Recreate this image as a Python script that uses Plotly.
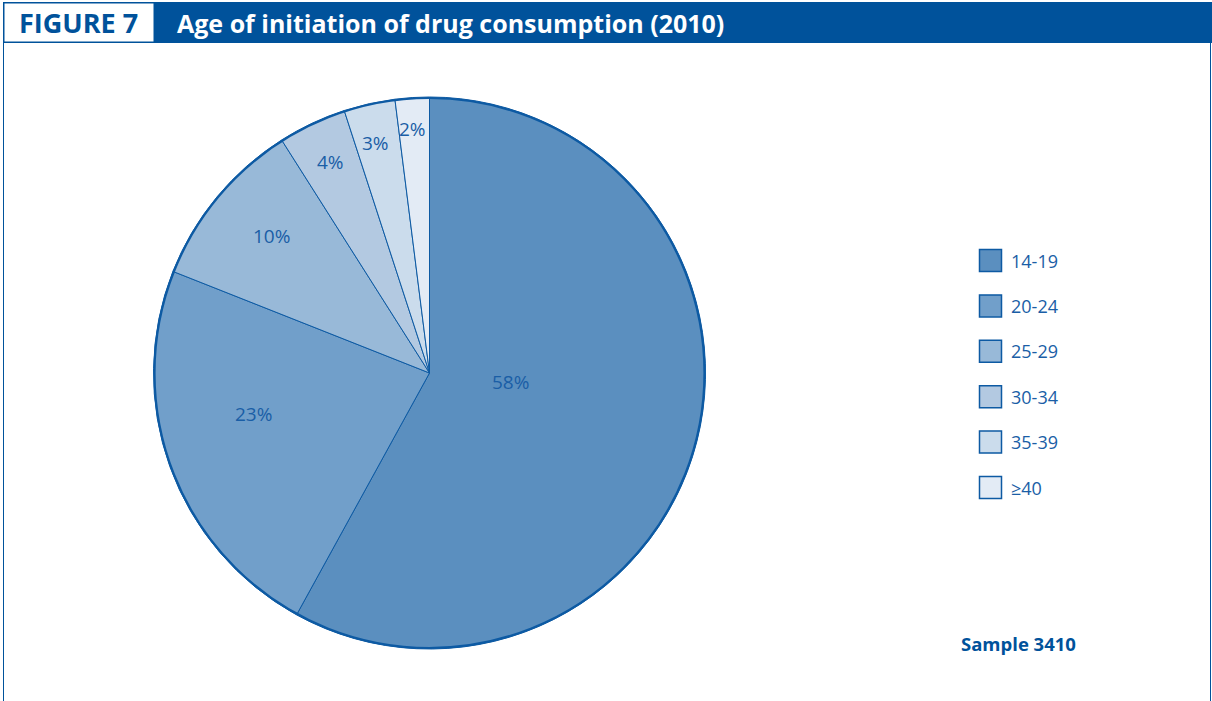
import math
import plotly.graph_objects as go

# Age-of-initiation shares (percent of respondents)
age_groups = ["14-19", "20-24", "25-29", "30-34", "35-39", "≥40"]
shares = [58, 23, 10, 4, 3, 2]
slice_colors = ["#5b8fbf", "#719fca", "#98b9d8", "#b3c9e1", "#cbdcec", "#e3ebf5"]

figure_label = "FIGURE 7"
title_text = "Age of initiation of drug consumption (2010)"
sample_note = "Sample 3410"

# Label placement inside each slice: fraction along the slice's arc, fraction of radius
label_arc_frac = [0.46, 0.58, 0.54, 0.51, 0.44, 0.44]
label_rad_frac = [0.295, 0.655, 0.757, 0.844, 0.855, 0.888]

W, H = 1212, 701
BLUE = "#00529b"
LINE = "#0d5aa3"
TEXT = "#1a5ea6"
FONT = "Open Sans"

# pie geometry in pixels
cx, cy, R = 429.5, 373.0, 276.0


def px(x):
    return x / W


def py(y):
    return 1 - y / H


fig = go.Figure()
fig.add_trace(go.Pie(
    labels=age_groups,
    values=shares,
    sort=False,
    direction="clockwise",
    rotation=0,
    marker=dict(colors=slice_colors, line=dict(color=LINE, width=1)),
    textinfo="none",
    hoverinfo="label+percent",
    showlegend=False,
    domain=dict(x=[px(cx - R), px(cx + R)], y=[py(cy + R), py(cy - R)]),
))

shapes = []
annotations = []

# thicker outer rim of the pie
shapes.append(dict(type="circle", xref="paper", yref="paper",
                   x0=px(cx - R + 1), x1=px(cx + R - 1),
                   y0=py(cy + R - 1), y1=py(cy - R + 1),
                   line=dict(color=LINE, width=2.2), fillcolor="rgba(0,0,0,0)"))

# percentage labels positioned from the cumulative slice angles
total = sum(shares)
start = 0.0
for val, af, rf in zip(shares, label_arc_frac, label_rad_frac):
    span = 360.0 * val / total
    ang = math.radians(start + af * span)
    lx = cx + rf * R * math.sin(ang)
    ly = cy - rf * R * math.cos(ang)
    annotations.append(dict(x=px(lx), y=py(ly), xref="paper", yref="paper",
                            text=f"{val}%", showarrow=False,
                            xanchor="center", yanchor="middle",
                            font=dict(family=FONT, size=19, color=TEXT)))
    start += span

# header band
shapes.append(dict(type="rect", xref="paper", yref="paper",
                   x0=px(3), x1=px(W), y0=py(43), y1=py(2),
                   fillcolor=BLUE, line=dict(width=0), layer="above"))
shapes.append(dict(type="rect", xref="paper", yref="paper",
                   x0=px(4), x1=px(154), y0=py(42), y1=py(3),
                   fillcolor="white", line=dict(color=BLUE, width=1), layer="above"))
# frame sides
shapes.append(dict(type="line", xref="paper", yref="paper",
                   x0=px(3.5), x1=px(3.5), y0=py(43), y1=0,
                   line=dict(color=BLUE, width=1)))
shapes.append(dict(type="line", xref="paper", yref="paper",
                   x0=px(1210.5), x1=px(1210.5), y0=py(43), y1=0,
                   line=dict(color=BLUE, width=1)))

annotations.append(dict(x=px(78.5), y=py(23), xref="paper", yref="paper",
                        text=f"<b>{figure_label}</b>", showarrow=False,
                        xanchor="center", yanchor="middle",
                        font=dict(family=FONT, size=27, color=BLUE)))
annotations.append(dict(x=px(175), y=py(23), xref="paper", yref="paper",
                        text=f"<b>{title_text}</b>", showarrow=False,
                        xanchor="left", yanchor="middle",
                        font=dict(family=FONT, size=25, color="white")))
annotations.append(dict(x=px(959), y=py(643), xref="paper", yref="paper",
                        text=f"<b>{sample_note}</b>", showarrow=False,
                        xanchor="left", yanchor="middle",
                        font=dict(family=FONT, size=18.5, color=BLUE)))

# legend swatches and labels
leg_x0, leg_y0, leg_step, sw = 979.5, 249.5, 45.4, 22
for i, (name, col) in enumerate(zip(age_groups, slice_colors)):
    top = leg_y0 + i * leg_step
    shapes.append(dict(type="rect", xref="paper", yref="paper",
                       x0=px(leg_x0), x1=px(leg_x0 + sw),
                       y0=py(top + sw), y1=py(top),
                       fillcolor=col, line=dict(color=LINE, width=1.5)))
    annotations.append(dict(x=px(1009), y=py(top + sw / 2), xref="paper", yref="paper",
                            text=name, showarrow=False,
                            xanchor="left", yanchor="middle",
                            font=dict(family=FONT, size=18, color=TEXT)))

fig.update_layout(
    width=W, height=H,
    margin=dict(l=0, r=0, t=0, b=0),
    paper_bgcolor="white",
    plot_bgcolor="white",
    shapes=shapes,
    annotations=annotations,
)

fig.write_html("out.html")
